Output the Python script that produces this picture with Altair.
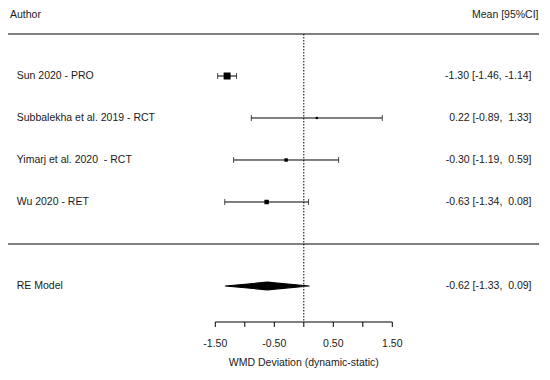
import altair as alt
import pandas as pd

# ---- data ----
studies = ["Sun 2020 - PRO", "Subbalekha et al. 2019 - RCT",
           "Yimarj et al. 2020\u00a0 - RCT", "Wu 2020 - RET"]
est = [-1.30, 0.22, -0.30, -0.63]
lo = [-1.46, -0.89, -1.19, -1.34]
hi = [-1.14, 1.33, 0.59, 0.08]
rows = [1, 2, 3, 4]

re_label = "RE Model"
re_est = -0.62
re_lo = -1.33
re_hi = 0.09
re_row = 6

line_rows = [0, 5]
tick_values = [-1.5, -1.0, -0.5, 0.0, 0.5, 1.0, 1.5]
label_values = [-1.5, -0.5, 0.5, 1.5]
x_title = "WMD Deviation (dynamic-static)"


def fmt(v):
    s = f"{v:.2f}"
    return s if v < 0 else "\u00a0" + s


def ci_text(e, l, h):
    return f"{e:.2f} [{l:.2f}, {fmt(h)}]"


FONT = "Liberation Sans"
FS = 10.5
TXT = "#1a1a1a"

df = pd.DataFrame({"study": studies, "est": est, "lo": lo, "hi": hi, "row": rows,
                   "ci": [ci_text(e, l, h) for e, l, h in zip(est, lo, hi)]})
re_df = pd.DataFrame({"study": [re_label], "row": [re_row],
                      "ci": [ci_text(re_est, re_lo, re_hi)]})
txt_df = pd.concat([df[["study", "row", "ci"]], re_df], ignore_index=True)
HALF = 0.09
dia = pd.DataFrame({"x": [re_lo, re_est, re_hi],
                    "y": [re_row, re_row - HALF, re_row],
                    "y2": [re_row, re_row + HALF, re_row]})

W, H = 534, 364
AX = 314  # axis line position (pixels from top of the chart)
xs = alt.Scale(domain=[-5.0136, 4.0373], nice=False, zero=False)
ys = alt.Scale(domain=[-0.619, -0.619 + H / 42.0], reverse=True, nice=False, zero=False)


def X(f, **kw):
    return alt.X(f, type="quantitative", scale=xs, axis=None, **kw)


def Y(f):
    return alt.Y(f, type="quantitative", scale=ys, axis=None)


hlines = alt.Chart(pd.DataFrame({"row": line_rows})).mark_rule(
    color="#808080", strokeWidth=2).encode(y=Y("row"), x=alt.value(0), x2=alt.value(531))

ci = alt.Chart(df).mark_rule(color="black", strokeWidth=1).encode(
    x=X("lo"), x2="hi", y=Y("row"))

caps = alt.Chart(df).transform_fold(["lo", "hi"], as_=["end", "xv"]).mark_tick(
    orient="vertical", color="black", size=6, thickness=1).encode(
    x=X("xv:Q"), y=Y("row"))

squares = alt.Chart(df).mark_square(color="black", opacity=1).encode(
    x=X("est"), y=Y("row"),
    size=alt.Size("study:N", scale=alt.Scale(type="ordinal", domain=studies,
                                             range=[49, 5, 12, 20]),
                  legend=None))

diamond = alt.Chart(dia).mark_area(color="black", opacity=1, stroke="black",
                                   strokeWidth=1.2, strokeJoin="round").encode(
    x=X("x"), y=Y("y"), y2="y2")

axis_line = alt.Chart(pd.DataFrame({"a": [tick_values[0]], "b": [tick_values[-1]]})).mark_rule(
    color="black", strokeWidth=1).encode(x=X("a"), x2="b", y=alt.value(AX))

ticks = alt.Chart(pd.DataFrame({"v": tick_values})).mark_rule(
    color="black", strokeWidth=1).encode(x=X("v"), y=alt.value(AX), y2=alt.value(AX + 5))

tick_labels = alt.Chart(pd.DataFrame({"v": label_values,
                                      "t": [f"{v:.2f}" for v in label_values]})).mark_text(
    align="center", baseline="middle", font=FONT, fontSize=FS, color=TXT).encode(
    x=X("v"), y=alt.value(AX + 22), text="t")

vline = alt.Chart(pd.DataFrame({"x": [0.0], "row": [0]})).mark_rule(
    color="black", strokeWidth=1, strokeDash=[1.5, 1.5]).encode(
    x=X("x"), y=Y("row"), y2=alt.value(AX))

names = alt.Chart(txt_df).mark_text(
    align="left", baseline="middle", font=FONT, fontSize=FS, color=TXT).encode(
    x=alt.value(8.7), y=Y("row"), text="study")

cis = alt.Chart(txt_df).mark_text(
    align="right", baseline="middle", font=FONT, fontSize=FS, color=TXT).encode(
    x=alt.value(523.5), y=Y("row"), text="ci")

head_l = alt.Chart(pd.DataFrame({"t": ["Author"]})).mark_text(
    align="left", baseline="middle", font=FONT, fontSize=FS, color=TXT).encode(
    x=alt.value(2), y=alt.value(7), text="t")
head_r = alt.Chart(pd.DataFrame({"t": ["Mean [95%CI]"]})).mark_text(
    align="right", baseline="middle", font=FONT, fontSize=FS, color=TXT).encode(
    x=alt.value(530.5), y=alt.value(7), text="t")

xtitle = alt.Chart(pd.DataFrame({"x": [0.0], "t": [x_title]})).mark_text(
    align="center", baseline="middle", font=FONT, fontSize=FS, color=TXT).encode(
    x=X("x"), y=alt.value(AX + 41), text="t")

chart = alt.layer(hlines, ci, caps, squares, diamond, axis_line, ticks, tick_labels,
                  vline, names, cis, head_l, head_r, xtitle).properties(
    width=W, height=H, autosize=alt.AutoSizeParams(type="none"), padding=0
).configure_view(stroke=None)

chart.save("out.html", embed_options={"renderer": "svg", "actions": False})
